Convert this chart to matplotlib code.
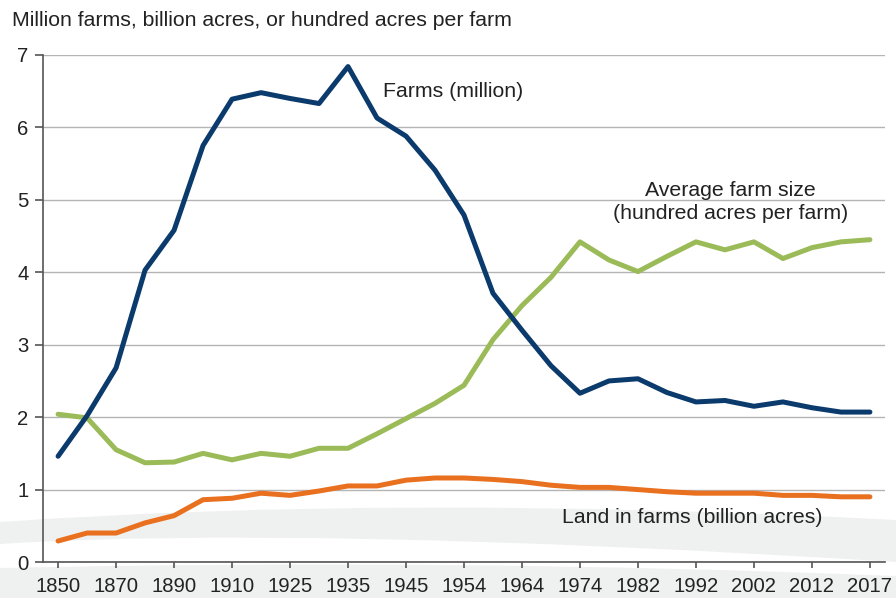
import numpy as np
import matplotlib.pyplot as plt
from matplotlib.path import Path
from matplotlib.patches import PathPatch

# values, one per census point (29 evenly spaced points)
farms = [1.46, 2.02, 2.68, 4.03, 4.58, 5.75, 6.39, 6.48, 6.40, 6.33, 6.84,
         6.13, 5.88, 5.41, 4.79, 3.71, 3.20, 2.71, 2.33, 2.50, 2.53, 2.34,
         2.21, 2.23, 2.15, 2.21, 2.13, 2.07, 2.07]
avg_size = [2.04, 1.99, 1.55, 1.37, 1.38, 1.50, 1.41, 1.50, 1.46, 1.57, 1.57,
            1.77, 1.98, 2.19, 2.44, 3.07, 3.54, 3.93, 4.42, 4.17, 4.01, 4.22,
            4.42, 4.31, 4.42, 4.19, 4.34, 4.42, 4.45]
land = [0.29, 0.40, 0.40, 0.54, 0.64, 0.86, 0.88, 0.95, 0.92, 0.98, 1.05,
        1.05, 1.13, 1.16, 1.16, 1.14, 1.11, 1.06, 1.03, 1.03, 1.00, 0.97,
        0.95, 0.95, 0.95, 0.92, 0.92, 0.90, 0.90]
tick_labels = ["1850", "1870", "1890", "1910", "1925", "1935", "1945", "1954",
               "1964", "1974", "1982", "1992", "2002", "2012", "2017"]

NAVY = "#0b3a6c"
GREEN = "#9bbb59"
ORANGE = "#e8701f"
SWOOSH = "#eff1f0"
TEXT = "#222222"

plt.rcParams["font.family"] = ["Liberation Sans", "DejaVu Sans"]

fig = plt.figure(figsize=(8.96, 5.98), dpi=100)

# decorative background bands
bg = fig.add_axes([0, 0, 1, 1], zorder=-1)
bg.set_xlim(0, 896)
bg.set_ylim(598, 0)
bg.axis("off")
upper = Path(
    [(0, 522), (400, 494), (896, 520), (896, 562), (300, 525), (0, 544), (0, 522)],
    [Path.MOVETO, Path.CURVE3, Path.CURVE3, Path.LINETO, Path.CURVE3, Path.CURVE3, Path.CLOSEPOLY],
)
lower = Path(
    [(0, 568), (450, 558), (896, 576), (896, 598), (0, 598), (0, 568)],
    [Path.MOVETO, Path.CURVE3, Path.CURVE3, Path.LINETO, Path.LINETO, Path.CLOSEPOLY],
)
for p in (upper, lower):
    bg.add_patch(PathPatch(p, facecolor=SWOOSH, edgecolor="none"))

ax = fig.add_axes([43 / 896, 1 - 562 / 598, (885 - 43) / 896, (562 - 55) / 598])
ax.set_facecolor("none")

x = np.arange(len(farms))
ax.plot(x, avg_size, color=GREEN, lw=3.6, solid_capstyle="round", zorder=3)
ax.plot(x, land, color=ORANGE, lw=3.6, solid_capstyle="round", zorder=3)
ax.plot(x, farms, color=NAVY, lw=3.6, solid_capstyle="round", zorder=4)

ax.set_xlim(-0.52, 28.52)
ax.set_ylim(0, 7)
ax.set_yticks(range(0, 8))
ax.set_xticks(x[::2])
ax.set_xticklabels(tick_labels)
ax.yaxis.grid(True, color="#b4b4b4", lw=1)
ax.set_axisbelow(True)
for s in ("top", "right"):
    ax.spines[s].set_visible(False)
for s in ("left", "bottom"):
    ax.spines[s].set_color("#555555")
    ax.spines[s].set_linewidth(1.2)
ax.tick_params(axis="both", colors="#555555", labelcolor=TEXT, width=1.2)
ax.tick_params(axis="x", labelsize=14.6, length=4.5, pad=6)
ax.tick_params(axis="y", labelsize=14.6, length=6, pad=4.5)

fig.text(12 / 896, 1 - 20 / 598, "Million farms, billion acres, or hundred acres per farm",
         fontsize=15.3, color=TEXT, va="center", ha="left")
ax.text(11.2, 6.49, "Farms (million)", fontsize=15.3, color=TEXT, va="center", ha="left")
ax.text(23.2, 4.97, "Average farm size\n(hundred acres per farm)", fontsize=15.3,
        color=TEXT, va="center", ha="center", linespacing=1.3)
ax.text(17.38, 0.62, "Land in farms (billion acres)", fontsize=15.3, color=TEXT,
        va="center", ha="left")

fig.savefig("out.png", dpi=100)
